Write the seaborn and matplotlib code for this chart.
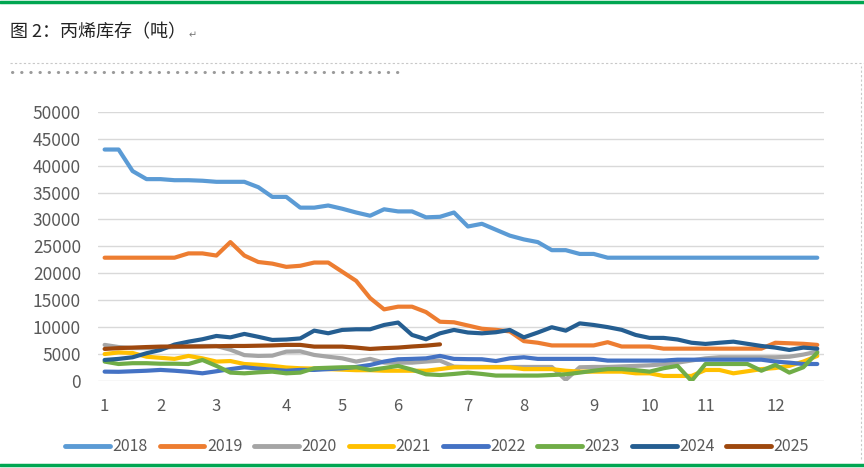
import pandas as pd
import seaborn as sns
import matplotlib.pyplot as plt
from matplotlib.lines import Line2D

# 周度丙烯库存（吨），每年 52 周
y2018 = [43000, 43000, 39000, 37500, 37500, 37300, 37300, 37200, 37000, 37000,
         37000, 36000, 34200, 34200, 32200, 32200, 32600, 32000, 31300, 30700,
         31900, 31500, 31500, 30400, 30500, 31300, 28700, 29200, 28100, 27000,
         26300, 25800, 24300, 24300, 23600, 23600, 22900, 22900, 22900, 22900,
         22900, 22900, 22900, 22900, 22900, 22900, 22900, 22900, 22900, 22900,
         22900, 22900]
y2019 = [22900, 22900, 22900, 22900, 22900, 22900, 23700, 23700, 23300, 25800,
         23300, 22100, 21800, 21200, 21400, 22000, 22000, 20300, 18600, 15400,
         13300, 13800, 13800, 12800, 11000, 10900, 10300, 9700, 9500, 9200,
         7400, 7100, 6600, 6600, 6600, 6600, 7200, 6400, 6400, 6400,
         6000, 6000, 6000, 6000, 6000, 6000, 6000, 6000, 7100, 7000,
         6900, 6700]
y2020 = [6700, 6300, 6100, 6100, 6200, 6300, 6400, 6500, 6500, 5800,
         4800, 4650, 4700, 5450, 5500, 4830, 4500, 4200, 3600, 4100,
         3400, 3400, 3400, 3600, 3780, 2660, 2600, 2600, 2600, 2600,
         2600, 2600, 2600, 200, 2540, 2600, 2600, 2700, 2800, 2900,
         3100, 3400, 3800, 4200, 4400, 4400, 4400, 4400, 4400, 4500,
         4900, 5450]
y2021 = [5000, 5300, 5200, 4500, 4300, 4100, 4650, 4200, 3600, 3700,
         3150, 3000, 2800, 2500, 2360, 2300, 2200, 2100, 2000, 2000,
         1900, 1900, 1900, 1900, 2200, 2540, 2540, 2540, 2540, 2540,
         2200, 2200, 2200, 1900, 1730, 1730, 1730, 1730, 1420, 1420,
         930, 930, 930, 2040, 2040, 1420, 1800, 2200, 2400, 2800,
         3600, 4650]
y2022 = [1730, 1700, 1800, 1900, 2050, 1900, 1700, 1420, 1800, 2200,
         2540, 2300, 2100, 1900, 2050, 2050, 2200, 2350, 2600, 2970,
         3600, 4030, 4100, 4200, 4650, 4100, 4050, 4030, 3700, 4200,
         4400, 4100, 4100, 4100, 4100, 4100, 3780, 3780, 3780, 3780,
         3780, 3950, 3950, 3950, 3950, 3950, 3950, 3950, 3600, 3400,
         3150, 3150]
y2023 = [3600, 3150, 3300, 3300, 3200, 3200, 3150, 3900, 2800, 1550,
         1420, 1600, 1730, 1420, 1550, 2360, 2450, 2540, 2540, 2050,
         2400, 2800, 2100, 1240, 1100, 1300, 1550, 1300, 1000, 1000,
         1000, 1000, 1100, 1240, 1550, 1900, 2200, 2200, 2000, 1730,
         2360, 2800, 0, 3150, 3150, 3150, 3150, 1900, 2970, 1550,
         2540, 5260]
y2024 = [3900, 4100, 4400, 5150, 5760, 6760, 7300, 7750, 8360, 8100,
         8740, 8200, 7620, 7700, 7900, 9350, 8860, 9480, 9600, 9600,
         10400, 10850, 8550, 7750, 8850, 9480, 9000, 8850, 9050, 9480,
         8100, 9000, 9980, 9350, 10700, 10400, 10000, 9500, 8550, 8000,
         8000, 7700, 7100, 6880, 7100, 7300, 6900, 6500, 6200, 5760,
         6200, 6000]
y2025 = [5950, 6100, 6200, 6300, 6380, 6400, 6400, 6400, 6450, 6500,
         6500, 6550, 6600, 6700, 6700, 6380, 6380, 6380, 6200, 5950,
         6100, 6200, 6400, 6560, 6800]

years = ['2018', '2019', '2020', '2021', '2022', '2023', '2024', '2025']
series = [y2018, y2019, y2020, y2021, y2022, y2023, y2024, y2025]
colors = ['#5B9BD5', '#ED7D31', '#A5A5A5', '#FFC000', '#4472C4', '#70AD47', '#255E91', '#9E480E']

# 月份标签所在的周序号
month_pos = [0, 4, 8, 13, 17, 21, 26, 30, 35, 39, 43, 48]
month_labels = [str(m) for m in range(1, 13)]

rows = []
for yr, vals in zip(years, series):
    for i, v in enumerate(vals):
        rows.append({'week': i, 'stock': v, 'year': yr})
df = pd.DataFrame(rows)

sns.set_style('white')
plt.rcParams['font.family'] = ['Noto Sans CJK SC', 'DejaVu Sans']

fig = plt.figure(figsize=(8.64, 4.68), dpi=100)
ax = fig.add_axes([0.113, 0.186, 0.841, 0.575])

sns.lineplot(data=df, x='week', y='stock', hue='year', palette=colors,
             linewidth=3.0, legend=False, ax=ax)

ax.set_ylim(0, 50000)
ax.set_yticks(range(0, 50001, 5000))
ax.set_xlim(-0.5, 51.5)
ax.set_xticks(month_pos)
ax.set_xticklabels(month_labels)
ax.grid(axis='y', color='#D9D9D9', linewidth=1)
ax.set_axisbelow(True)
for s in ax.spines.values():
    s.set_visible(False)
ax.tick_params(axis='both', length=0, labelcolor='#595959')
ax.tick_params(axis='y', labelsize=12.5, pad=12)
ax.tick_params(axis='x', labelsize=12, pad=12)
ax.set_xlabel('')
ax.set_ylabel('')

handles = [Line2D([0], [0], color=c, lw=3.5, solid_capstyle='round') for c in colors]
fig.legend(handles, years, loc='center', bbox_to_anchor=(0.506, 0.045), ncol=8,
           frameon=False, fontsize=11.5, handlelength=2.8, handletextpad=0.15,
           columnspacing=0.75, labelcolor='#595959')

# 页面装饰：标题、绿线、点线
fig.text(0.011, 0.93, '图 2：丙烯库存（吨）', fontsize=13, color='#222222', va='center')
fig.text(0.218, 0.925, '↵', fontsize=7, color='#777777', va='center')
fig.add_artist(Line2D([0, 1], [0.995, 0.995], color='#00A651', lw=2.5))
fig.add_artist(Line2D([0, 1], [0.006, 0.006], color='#00A651', lw=2.5))
fig.add_artist(Line2D([0.012, 1], [0.866, 0.866], color='#C8C8C8', lw=0.8, ls=(0, (2, 2))))
fig.add_artist(Line2D([0.014, 0.47], [0.846, 0.846], color='#9A9A9A', lw=2.2, ls=(0, (0.1, 2.9)),
                      solid_capstyle='round', dash_capstyle='round'))
fig.add_artist(Line2D([0.997, 0.997], [0.02, 0.86], color='#C8C8C8', lw=0.8, ls=(0, (2, 2))))

fig.savefig('out.png', dpi=100)
